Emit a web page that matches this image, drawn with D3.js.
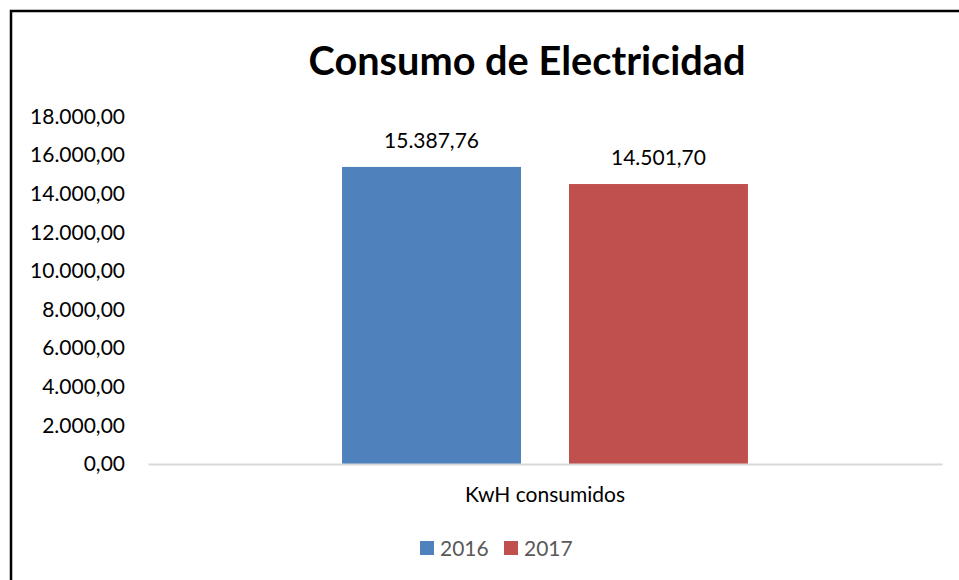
<!DOCTYPE html>
<html>
<head>
<meta charset="utf-8">
<script src="https://cdn.jsdelivr.net/npm/d3@7"></script>
<style>
  body { margin: 0; background: #fff; }
  svg { display: block; font-family: Lato, "Open Sans", sans-serif; }
</style>
</head>
<body>
<svg width="959" height="580"></svg>
<script>
var categories = ["KwH consumidos"];
var years = ["2016", "2017"];
var values2016 = [15387.76];
var values2017 = [14501.70];
var yTicks = [0, 2000, 4000, 6000, 8000, 10000, 12000, 14000, 16000, 18000];
var colors = ["#4f81bd", "#c0504d"];

var svg = d3.select("svg"),
    width = +svg.attr("width"),
    height = +svg.attr("height");

var series = [values2016, values2017];
var fontFam = "Lato, 'Open Sans', sans-serif";

var fmt = function(v) {
    return d3.formatLocale({ decimal: ",", thousands: ".", grouping: [3], currency: ["", ""] })
        .format(",.2f")(v);
};

// frame
svg.append("rect")
    .attr("x", 11).attr("y", 11)
    .attr("width", width + 10).attr("height", height + 10)
    .attr("fill", "#fff")
    .attr("stroke", "#000")
    .attr("stroke-width", 2.5);

var margin = { left: 148, right: 17, top: 116.5, bottom: 116 };

var y = d3.scaleLinear()
    .domain([0, 18000])
    .range([height - margin.bottom, margin.top]);

var x0 = d3.scaleBand()
    .domain(categories)
    .range([margin.left, width - margin.right])
    .paddingInner(0)
    .paddingOuter(0.478);

var x1 = d3.scaleBand()
    .domain(years)
    .range([0, x0.bandwidth()])
    .paddingInner(0.2115)
    .paddingOuter(0);

// title
svg.append("text")
    .attr("x", 527)
    .attr("y", 75)
    .attr("text-anchor", "middle")
    .attr("font-size", 39.7)
    .attr("font-weight", "bold")
    .attr("fill", "#000")
    .text("Consumo de Electricidad");

// y axis
var yAxis = d3.axisLeft(y)
    .tickValues(yTicks)
    .tickSize(0)
    .tickPadding(0)
    .tickFormat(fmt);

var gy = svg.append("g")
    .attr("transform", "translate(125,0)")
    .call(yAxis);
gy.select(".domain").remove();
gy.selectAll("text")
    .attr("font-size", 21)
    .attr("fill", "#000")
    .attr("font-family", fontFam);

// bars
var group = svg.append("g")
    .selectAll("g")
    .data(categories)
    .join("g")
    .attr("transform", d => "translate(" + x0(d) + ",0)");

group.selectAll("rect")
    .data((d, i) => years.map((yr, j) => ({ year: yr, value: series[j][i], color: colors[j] })))
    .join("rect")
    .attr("x", d => x1(d.year))
    .attr("y", d => y(d.value))
    .attr("width", x1.bandwidth())
    .attr("height", d => y(0) - y(d.value))
    .attr("fill", d => d.color);

group.selectAll("text.lbl")
    .data((d, i) => years.map((yr, j) => ({ year: yr, value: series[j][i] })))
    .join("text")
    .attr("class", "lbl")
    .attr("x", d => x1(d.year) + x1.bandwidth() / 2)
    .attr("y", d => y(d.value) - 19)
    .attr("text-anchor", "middle")
    .attr("font-size", 21)
    .attr("fill", "#000")
    .text(d => fmt(d.value));

// x axis baseline
var xAxis = d3.axisBottom(x0).tickSize(0).tickPadding(23);
var gx = svg.append("g")
    .attr("transform", "translate(0," + y(0) + ")")
    .call(xAxis);
gx.select(".domain")
    .attr("stroke", "#d9d9d9")
    .attr("stroke-width", 2);
gx.selectAll("text")
    .attr("font-size", 21)
    .attr("fill", "#000")
    .attr("font-family", fontFam);

// legend
var legendX = [420, 504];
var legend = svg.append("g")
    .selectAll("g")
    .data(years)
    .join("g")
    .attr("transform", (d, i) => "translate(" + legendX[i] + ",541)");

legend.append("rect")
    .attr("width", 14).attr("height", 14)
    .attr("fill", (d, i) => colors[i]);

legend.append("text")
    .attr("x", 20)
    .attr("y", 15)
    .attr("font-size", 21)
    .attr("fill", "#595959")
    .text(d => d);
</script>
</body>
</html>
